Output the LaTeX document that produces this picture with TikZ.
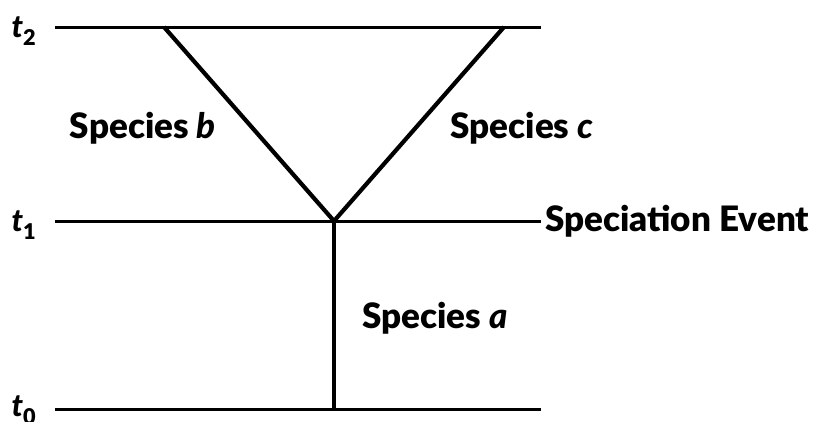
\documentclass[tikz,border=0pt]{standalone}
\usepackage{fontspec}
\setmainfont{Lato}[UprightFont=* Black, ItalicFont=* Black Italic, BoldFont=* Black]
\begin{document}
\begin{tikzpicture}[x=1pt,y=-1pt,
  hline/.style={line width=3pt},
  branch/.style={line width=4.2pt},
  lbl/.style={font=\fontsize{35}{35}\selectfont, inner sep=0pt},
  tlbl/.style={font=\fontsize{31}{31}\selectfont\itshape, inner sep=0pt}]
\useasboundingbox (0,0) rectangle (820,421);
\coordinate (t2l) at (55,27); \coordinate (t2r) at (541,27);
\coordinate (t1l) at (55,221); \coordinate (t1r) at (541,221);
\coordinate (t0l) at (55,409); \coordinate (t0r) at (541,409);
\coordinate (v) at (334,221);
\coordinate (bl) at (164,27); \coordinate (br) at (504,27);
\coordinate (vb) at (334,409);
\draw[hline] (t2l) -- (t2r);
\draw[hline] (t1l) -- (t1r);
\draw[hline] (t0l) -- (t0r);
\draw[branch,line join=miter] (bl) -- (v) -- (br);
\draw[branch] (v) -- (vb);
\node[tlbl] (lt2) at (24,31) {t$_{\mathbf 2}$};
\node[tlbl] (lt1) at (24,225) {t$_{\mathbf 1}$};
\node[tlbl] (lt0) at (24,410) {t$_{\mathbf 0}$};
\node[lbl] (sb) at (143,128) {Species \textit{b}};
\node[lbl] (sc) at (522,128) {Species \textit{c}};
\node[lbl, anchor=west] (se) at (545,221) {Speciation Event};
\node[lbl] (sa) at (435,318) {Species \textit{a}};
\end{tikzpicture}
\end{document}
